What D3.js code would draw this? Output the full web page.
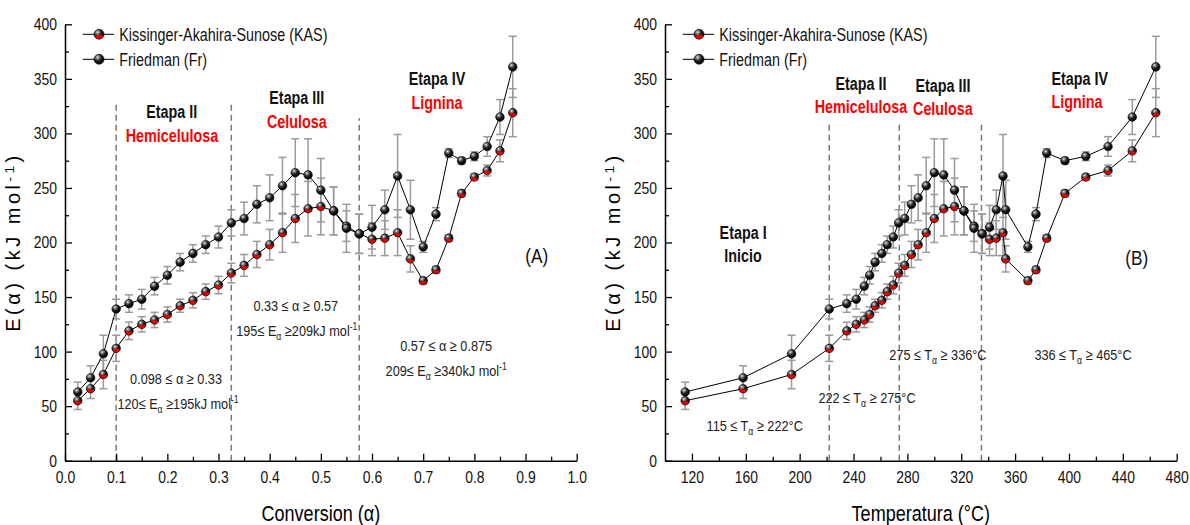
<!DOCTYPE html>
<html>
<head>
<meta charset="utf-8">
<title>E(alpha) KAS / Friedman</title>
<style>
    body { margin: 0; background: #fff; }
    svg { display: block; font-family: "Liberation Sans Narrow", "Arial Narrow", "Liberation Sans", Arial, sans-serif; }
    .tick text { font-size: 17px; fill: #111; }
    .domain { stroke: #000; stroke-width: 1.5; }
    .tick line { stroke: #000; stroke-width: 1.3; }
    .note { font-size: 15.5px; fill: #222; text-anchor: middle; }
    .stage { font-size: 17.5px; font-weight: bold; text-anchor: middle; }
    .legend text { font-size: 17.5px; fill: #111; }
</style>
<script src="https://d3js.org/d3.v7.min.js"></script>
</head>
<body>
<svg id="chart" width="1190" height="525"></svg>
<script>
// conversion points and their temperatures (°C)
var alpha = [0.025, 0.05, 0.075, 0.1, 0.125, 0.15, 0.175, 0.2, 0.225, 0.25,
             0.275, 0.3, 0.325, 0.35, 0.375, 0.4, 0.425, 0.45, 0.475, 0.5,
             0.525, 0.55, 0.575, 0.6, 0.625, 0.65, 0.675, 0.7, 0.725, 0.75,
             0.775, 0.8, 0.825, 0.85, 0.875];
var tempC = [115, 158, 194, 222, 235, 242, 248, 252, 256, 261,
             265, 269.5, 273.5, 278, 283, 288, 294, 300, 307, 315,
             322, 329.5, 335.5, 341, 346, 351, 353, 369.5, 375.5, 383.5,
             397, 412.5, 429, 447, 464.5];

// activation energy, kJ/mol
var eKAS = [55, 66, 79, 103, 119, 125, 129, 134, 142, 147,
            155, 161, 172, 179, 189, 198, 209, 222, 231, 233,
            229, 215, 208, 203, 204, 209, 185, 165, 175, 204,
            245, 260, 266, 284, 319];
var eKASErr = [8, 9, 13, 12, 8, 7, 7, 7, 6, 7,
               7, 8, 9, 10, 12, 14, 18, 22, 25, 26,
               22, 14, 18, 15, 16, 21, 12, 3, 3, 3,
               3, 3, 5, 10, 22];
var eFr = [63, 76, 98, 139, 144, 148, 160, 170, 182, 190,
           198, 205, 218, 222, 235, 241, 252, 264, 262, 248,
           229, 213, 208, 214, 230, 261, 230, 196, 226, 282,
           275, 279, 288, 315, 361];
var eFrErr = [9, 11, 17, 9, 8, 9, 8, 8, 8, 8,
              8, 10, 12, 15, 17, 21, 26, 31, 33, 29,
              22, 22, 18, 20, 18, 38, 27, 5, 6, 4,
              3, 4, 9, 16, 28];

var yTicks = [0, 50, 100, 150, 200, 250, 300, 350, 400];
var yMinor = [25, 75, 125, 175, 225, 275, 325, 375];
var alphaTicks = [0, 0.1, 0.2, 0.3, 0.4, 0.5, 0.6, 0.7, 0.8, 0.9, 1.0];
var alphaMinor = [0.05, 0.15, 0.25, 0.35, 0.45, 0.55, 0.65, 0.75, 0.85, 0.95];
var tempTicks = [120, 160, 200, 240, 280, 320, 360, 400, 440, 480];
var tempMinor = [140, 180, 220, 260, 300, 340, 380, 420, 460];

// stage boundaries
var stageAlpha = [0.1, 0.325, 0.575];
var stageTemp = [222, 274, 335];

var seriesNames = ["Kissinger-Akahira-Sunose (KAS)", "Friedman (Fr)"];

var svg = d3.select("#chart");
var y = d3.scaleLinear().domain([0, 400]).range([460.7, 24.3]);
var xA = d3.scaleLinear().domain([0, 1]).range([65, 576.7]);
var xB = d3.scaleLinear().domain([100, 480]).range([665, 1176.7]);

var defs = svg.append("defs");
var grad = defs.append("radialGradient").attr("id", "ball")
    .attr("cx", 0.36).attr("cy", 0.3).attr("r", 0.7);
grad.append("stop").attr("offset", 0).attr("stop-color", "#f2f2f2");
grad.append("stop").attr("offset", 0.2).attr("stop-color", "#8a8a8a");
grad.append("stop").attr("offset", 0.55).attr("stop-color", "#1c1c1c");
grad.append("stop").attr("offset", 1).attr("stop-color", "#000");

function marker(sel, kind, r)
{
    sel.append("circle").attr("r", r).attr("fill", "url(#ball)")
        .attr("stroke", "#000").attr("stroke-width", 0.6);
    if (kind == 0)
    {
        var q = r * 0.8;
        sel.append("path")
            .attr("d", "M" + (-q) + ",0.6 A" + q + "," + q + " 0 0 0 " + q + ",0.6 Z")
            .attr("fill", "#e60000");
    }
}

function richText(sel, parts)
{
    var shift = 0;
    parts.forEach(function (p) {
        var t = typeof p === "string" ? { s: p, k: "" } : { s: p[0], k: p[1] };
        var want = t.k == "sub" ? 4 : (t.k == "sup" ? -6 : 0);
        var ts = sel.append("tspan").attr("dy", want - shift).text(t.s);
        if (t.k) ts.attr("font-size", "68%");
        shift = want;
    });
}

function drawPanel(x, xs, cfg)
{
    var g = svg.append("g");

    // stage dividers
    g.selectAll("line.div").data(cfg.stages).enter().append("line")
        .attr("x1", function (d) { return x(d); })
        .attr("x2", function (d) { return x(d); })
        .attr("y1", y(0))
        .attr("y2", function (d, i) { return y(cfg.stageTop[i]); })
        .attr("stroke", "#7a7a7a").attr("stroke-width", 1.5)
        .attr("stroke-dasharray", "6,4");

    // axes
    g.append("g").attr("transform", "translate(0," + y(0) + ")")
        .call(d3.axisBottom(x).tickValues(cfg.minor).tickSizeInner(-4).tickSizeOuter(0).tickFormat(""))
        .select(".domain").remove();
    g.append("g").attr("transform", "translate(0," + y(0) + ")")
        .call(d3.axisBottom(x).tickValues(cfg.ticks).tickSizeInner(-7).tickSizeOuter(0)
            .tickPadding(10).tickFormat(cfg.fmt));
    g.append("g").attr("transform", "translate(" + x.range()[0] + ",0)")
        .call(d3.axisLeft(y).tickValues(yMinor).tickSizeInner(-4).tickSizeOuter(0).tickFormat(""))
        .select(".domain").remove();
    g.append("g").attr("transform", "translate(" + x.range()[0] + ",0)")
        .call(d3.axisLeft(y).tickValues(yTicks).tickSizeInner(-7).tickSizeOuter(0).tickPadding(8));

    // axis titles
    var yt = g.append("text").attr("class", "keep")
        .attr("transform", "translate(" + (x.range()[0] - 45) + ",242) rotate(-90)")
        .attr("text-anchor", "middle")
        .style("font-family", "'Liberation Sans', Arial, sans-serif")
        .style("font-size", "20px").style("letter-spacing", "3.5px");
    richText(yt, ["E(\u03b1) (kJ mol", ["-1", "sup"], ")"]);

    var xt = g.append("text")
        .attr("x", (x.range()[0] + x.range()[1]) / 2).attr("y", 521)
        .attr("text-anchor", "middle").style("font-size", "22px");
    richText(xt, cfg.xTitle);

    var series = [{ v: eKAS, e: eKASErr }, { v: eFr, e: eFrErr }];

    // error bars
    series.forEach(function (s) {
        var eb = g.append("g").attr("stroke", "#9a9a9a").attr("stroke-width", 1.5);
        eb.selectAll("line.v").data(xs).enter().append("line")
            .attr("x1", function (d) { return x(d); })
            .attr("x2", function (d) { return x(d); })
            .attr("y1", function (d, i) { return y(s.v[i] - s.e[i]); })
            .attr("y2", function (d, i) { return y(s.v[i] + s.e[i]); });
        [-1, 1].forEach(function (sign) {
            eb.selectAll("line.c" + sign).data(xs).enter().append("line")
                .attr("x1", function (d) { return x(d) - 4; })
                .attr("x2", function (d) { return x(d) + 4; })
                .attr("y1", function (d, i) { return y(s.v[i] + sign * s.e[i]); })
                .attr("y2", function (d, i) { return y(s.v[i] + sign * s.e[i]); });
        });
    });

    // connecting lines
    series.forEach(function (s) {
        var line = d3.line()
            .x(function (d) { return x(d); })
            .y(function (d, i) { return y(s.v[i]); });
        g.append("path").datum(xs).attr("d", line)
            .attr("fill", "none").attr("stroke", "#000").attr("stroke-width", 1);
    });

    // markers
    series.forEach(function (s, k) {
        g.selectAll("g.m" + k).data(xs).enter().append("g")
            .attr("transform", function (d, i) { return "translate(" + x(d) + "," + y(s.v[i]) + ")"; })
            .each(function () { marker(d3.select(this), k, 4.3); });
    });

    // legend
    var lg = g.append("g").attr("class", "legend");
    seriesNames.forEach(function (name, k) {
        var ly = 34.3 + k * 25;
        var lx = x.range()[0] + 17.7;
        lg.append("line").attr("x1", lx).attr("x2", lx + 31.5).attr("y1", ly).attr("y2", ly)
            .attr("stroke", "#000").attr("stroke-width", 1);
        marker(lg.append("g").attr("transform", "translate(" + (lx + 16.3) + "," + ly + ")"), k, 5);
        lg.append("text").attr("x", lx + 36.6).attr("y", ly).attr("dy", "0.36em").text(name);
    });

    // stage names
    cfg.stageNames.forEach(function (s) {
        g.append("text").attr("class", "stage")
            .attr("x", x(s.x)).attr("y", y(s.y))
            .attr("fill", s.red ? "#ff0000" : "#111")
            .text(s.t);
    });

    // range notes
    cfg.notes.forEach(function (n) {
        var t = g.append("text").attr("class", "note").attr("x", x(n.x)).attr("y", y(n.y));
        richText(t, n.t);
    });

    g.append("text").attr("x", x(cfg.letter.x)).attr("y", y(cfg.letter.y))
        .attr("text-anchor", "middle").style("font-size", "21px").attr("fill", "#111")
        .text(cfg.letter.t);
}

drawPanel(xA, alpha, {
    ticks: alphaTicks,
    minor: alphaMinor,
    fmt: d3.format(".1f"),
    stages: stageAlpha,
    stageTop: [330, 330, 314],
    xTitle: ["Conversion (\u03b1)"],
    stageNames: [
        { t: "Etapa II", x: 0.2085, y: 314 },
        { t: "Hemicelulosa", x: 0.209, y: 292, red: true },
        { t: "Etapa III", x: 0.453, y: 327 },
        { t: "Celulosa", x: 0.453, y: 305, red: true },
        { t: "Etapa IV", x: 0.727, y: 344 },
        { t: "Lignina", x: 0.727, y: 322, red: true }
    ],
    notes: [
        { t: ["0.098 \u2264 \u03b1 \u2265 0.33"], x: 0.217, y: 70 },
        { t: ["120\u2264 E", ["\u03b1", "sub"], " \u2265195kJ mol", ["-1", "sup"]], x: 0.221, y: 47 },
        { t: ["0.33 \u2264 \u03b1 \u2265 0.57"], x: 0.451, y: 137 },
        { t: ["195\u2264 E", ["\u03b1", "sub"], " \u2265209kJ mol", ["-1", "sup"]], x: 0.453, y: 114 },
        { t: ["0.57 \u2264 \u03b1 \u2265 0.875"], x: 0.745, y: 101 },
        { t: ["209\u2264 E", ["\u03b1", "sub"], " \u2265340kJ mol", ["-1", "sup"]], x: 0.745, y: 78 }
    ],
    letter: { t: "(A)", x: 0.922, y: 181 }
});

drawPanel(xB, tempC, {
    ticks: tempTicks,
    minor: tempMinor,
    fmt: d3.format("d"),
    stages: stageTemp,
    stageTop: [310, 310, 310],
    xTitle: ["Temperatura (\u00b0C)"],
    stageNames: [
        { t: "Etapa I", x: 158, y: 203 },
        { t: "Inicio", x: 158, y: 182 },
        { t: "Etapa II", x: 245.5, y: 340 },
        { t: "Hemicelulosa", x: 245.5, y: 319, red: true },
        { t: "Etapa III", x: 306.4, y: 338 },
        { t: "Celulosa", x: 306.4, y: 317, red: true },
        { t: "Etapa IV", x: 408, y: 344 },
        { t: "Lignina", x: 406, y: 323, red: true }
    ],
    notes: [
        { t: ["115 \u2264 T", ["\u03b1", "sub"], " \u2265 222\u00b0C"], x: 166.6, y: 27 },
        { t: ["222 \u2264 T", ["\u03b1", "sub"], " \u2265 275\u00b0C"], x: 250, y: 53 },
        { t: ["275 \u2264 T", ["\u03b1", "sub"], " \u2265 336\u00b0C"], x: 302.7, y: 92 },
        { t: ["336 \u2264 T", ["\u03b1", "sub"], " \u2265 465\u00b0C"], x: 410.4, y: 92 }
    ],
    letter: { t: "(B)", x: 450.3, y: 179 }
});

// the source uses a narrow face; squeeze text horizontally round its anchor
svg.selectAll("text").filter(function () { return !this.classList.contains("keep"); })
    .each(function () {
        var t = d3.select(this);
        var x0 = +t.attr("x") || 0;
        t.attr("transform", "translate(" + x0 + ",0) scale(0.82,1) translate(" + (-x0) + ",0)");
    });
</script>
</body>
</html>
